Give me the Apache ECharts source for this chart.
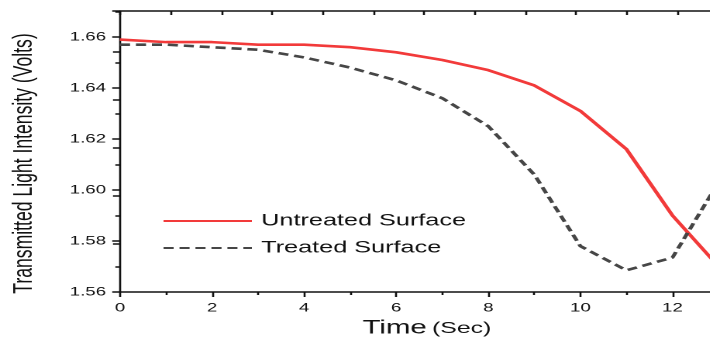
<!DOCTYPE html>
<html>
<head>
<meta charset="utf-8">
<script src="https://cdn.jsdelivr.net/npm/echarts@6/dist/echarts.min.js"></script>
<style>
  html, body { margin: 0; padding: 0; background: #fff; overflow: hidden; }
  #wrap { width: 710px; height: 339px; overflow: hidden; }
  /* the figure is drawn narrow and widened horizontally */
  #chart { width: 458px; height: 339px; transform: scaleX(1.55); transform-origin: 0 0; }
</style>
</head>
<body>
<div id="wrap"><div id="chart"></div></div>
<script>
// Time in seconds
const timeSec = [0, 1, 2, 3, 4, 5, 6, 7, 8, 9, 10, 11, 12, 13];
// Transmitted light intensity (V)
const untreated = [1.659, 1.658, 1.658, 1.657, 1.657, 1.656, 1.654, 1.651, 1.647, 1.641, 1.631, 1.616, 1.590, 1.570];
const treated   = [1.657, 1.657, 1.656, 1.655, 1.652, 1.648, 1.643, 1.636, 1.625, 1.606, 1.578, 1.5685, 1.5735, 1.603];
const seriesNames = ['Untreated Surface', 'Treated Surface'];

const toPairs = (vals) => vals.map((v, i) => [timeSec[i], v]);

const FONT = 'Liberation Sans, Arial, sans-serif';
const INK = '#111';
const labelFont = { fontFamily: FONT, fontSize: 12, color: INK };

const chart = echarts.init(document.getElementById('chart'), null, { devicePixelRatio: 2 });
chart.setOption({
  backgroundColor: '#ffffff',
  animation: false,
  grid: { left: 77.4, right: -1.4, top: 11, bottom: 47, outerBoundsMode: 'none' },
  legend: {
    orient: 'vertical',
    left: 104.5,
    top: 213,
    padding: 0,
    itemWidth: 57,
    itemHeight: 14,
    itemGap: 11,
    data: seriesNames,
    itemStyle: { opacity: 0 },
    textStyle: { fontFamily: FONT, fontSize: 16.3, color: INK, padding: [0, 0, 0, 1] }
  },
  xAxis: [{
    type: 'value',
    min: 0,
    max: 12.86,
    interval: 2,
    name: '{a|Time} {b|(Sec)}',
    nameLocation: 'middle',
    nameGap: 27,
    nameTextStyle: {
      padding: [0, 0, 0, 14],
      rich: {
        a: { fontFamily: FONT, fontSize: 19, color: INK },
        b: { fontFamily: FONT, fontSize: 16, color: INK }
      }
    },
    axisLine: { show: true, onZero: false, lineStyle: { color: INK, width: 1.5 } },
    axisTick: { show: true, length: 5, lineStyle: { color: INK, width: 1.3 } },
    minorTick: { show: true, splitNumber: 2, length: 3, lineStyle: { color: INK, width: 1.3 } },
    axisLabel: Object.assign({ margin: 10, showMaxLabel: false }, labelFont),
    splitLine: { show: false }
  }, {
    // top frame with inward ticks
    type: 'value',
    position: 'top',
    min: 0,
    max: 11.68,
    interval: 1,
    axisLine: { show: true, onZero: false, lineStyle: { color: INK, width: 1.5 } },
    axisTick: { show: true, inside: true, length: 4, lineStyle: { color: INK, width: 1.3 } },
    axisLabel: { show: false },
    splitLine: { show: false }
  }],
  yAxis: [{
    type: 'value',
    min: 1.56,
    max: 1.6702,
    interval: 0.02,
    name: 'Transmitted Light Intensity (Volts)',
    nameLocation: 'middle',
    nameGap: 53,
    nameRotate: 90,
    nameTextStyle: { fontFamily: FONT, fontSize: 17.6, color: INK, padding: [0, 24, 0, 0] },
    axisLine: { show: true, onZero: false, lineStyle: { color: INK, width: 1.3 } },
    axisTick: { show: true, length: 5, lineStyle: { color: INK, width: 1.5 } },
    minorTick: { show: true, splitNumber: 2, length: 3, lineStyle: { color: INK, width: 1.5 } },
    axisLabel: Object.assign({
      margin: 9,
      formatter: (v) => (v > 1.665 ? '' : v.toFixed(2))
    }, labelFont),
    splitLine: { show: false }
  }, {
    // right frame with inward ticks
    type: 'value',
    position: 'right',
    min: 0,
    max: 5.84,
    interval: 1,
    axisLine: { show: false },
    axisTick: { show: true, inside: true, length: 4.5, lineStyle: { color: INK, width: 1.5 } },
    axisLabel: { show: false },
    splitLine: { show: false }
  }],
  series: [{
    name: seriesNames[0],
    type: 'line',
    data: toPairs(untreated),
    symbol: 'none',
    lineStyle: { color: '#f23a3a', width: 2.6 },
    itemStyle: { color: '#f23a3a' }
  }, {
    name: seriesNames[1],
    type: 'line',
    data: toPairs(treated),
    symbol: 'none',
    lineStyle: { color: '#464646', width: 2.6, type: [6.5, 3.8] },
    itemStyle: { color: '#464646' }
  }]
});
</script>
</body>
</html>
